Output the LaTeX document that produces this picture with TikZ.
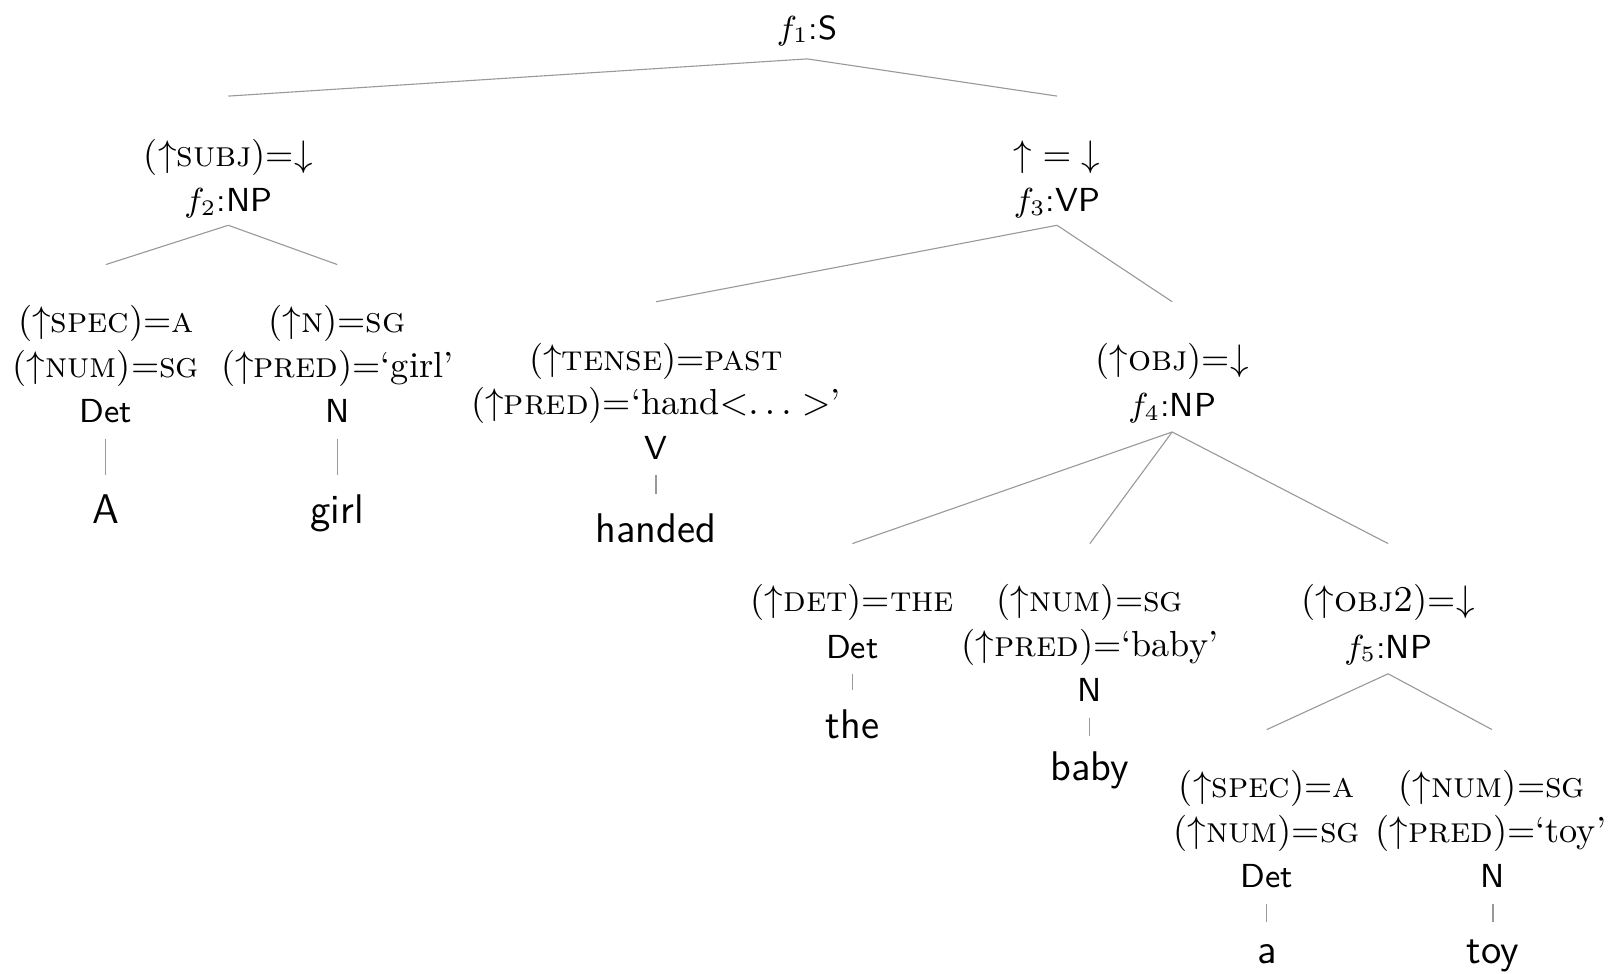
\documentclass[tikz,border=0pt]{standalone}
\usetikzlibrary{calc}
\newcommand\fup{$\uparrow$}
\newcommand\fdn{$\downarrow$}
\newcommand\qopen{\textquoteleft}
\newcommand\qclose{\textquoteright}
\begin{document}
\begin{tikzpicture}[x=0.2779pt,y=-0.2793pt,
  ann/.style={anchor=base,inner sep=0pt,font=\fontsize{9.8}{12}\selectfont},
  cat/.style={anchor=base,inner sep=0pt,font=\fontsize{9}{11}\selectfont\sffamily},
  leaf/.style={anchor=base,inner sep=0pt,font=\fontsize{11.2}{13}\selectfont\sffamily},
  edge/.style={draw=black!40,line width=0.3pt}]
\useasboundingbox (0,0) rectangle (1565.8,941.6);
% root
\node[cat] (s) at (785,38) {$f_1$:S};
% subject NP
\node[ann] (subj) at (222,161) {(\fup\textsc{subj})=\fdn};
\node[cat] (np2) at (222,205) {$f_2$:NP};
\node[ann] (spec1) at (103,322) {(\fup\textsc{spec})=\textsc{a}};
\node[ann] (num1) at (103,365) {(\fup\textsc{num})=\textsc{sg}};
\node[cat] (det1) at (103,409) {Det};
\node[leaf] (lA) at (103,507) {A};
\node[ann] (n1a) at (328,322) {(\fup\textsc{n})=\textsc{sg}};
\node[ann] (pred1) at (328,365) {(\fup\textsc{pred})=\qopen girl\qclose};
\node[cat] (n1) at (328,409) {N};
\node[leaf] (girl) at (328,507) {girl};
% VP
\node[ann] (vpa) at (1028,161) {${\uparrow}={\downarrow}$};
\node[cat] (vp3) at (1028,205) {$f_3$:VP};
\node[ann] (tense) at (638,359) {(\fup\textsc{tense})=\textsc{past}};
\node[ann] (predv) at (638,401) {(\fup\textsc{pred})=\qopen hand$<$$\ldots>$\qclose};
\node[cat] (v) at (638,445) {V};
\node[leaf] (handed) at (638,525) {handed};
\node[ann] (obj) at (1140,359) {(\fup\textsc{obj})=\fdn};
\node[cat] (np4) at (1140,403) {$f_4$:NP};
\node[ann] (det) at (829,592) {(\fup\textsc{det})=\textsc{the}};
\node[cat] (det2) at (829,637) {Det};
\node[leaf] (the) at (829,715) {the};
\node[ann] (num2) at (1060,592) {(\fup\textsc{num})=\textsc{sg}};
\node[ann] (pred2) at (1060,635) {(\fup\textsc{pred})=\qopen baby\qclose};
\node[cat] (n2) at (1060,679) {N};
\node[leaf] (baby) at (1060,755) {baby};
\node[ann] (obj2) at (1350,592) {(\fup\textsc{obj2})=\fdn};
\node[cat] (np5) at (1350,637) {$f_5$:NP};
\node[ann] (spec3) at (1232,772) {(\fup\textsc{spec})=\textsc{a}};
\node[ann] (num3) at (1232,815) {(\fup\textsc{num})=\textsc{sg}};
\node[cat] (det3) at (1232,859) {Det};
\node[leaf] (la) at (1232,932) {a};
\node[ann] (num4) at (1451,772) {(\fup\textsc{num})=\textsc{sg}};
\node[ann] (pred4) at (1450,815) {(\fup\textsc{pred})=\qopen toy\qclose};
\node[cat] (n4) at (1452,859) {N};
\node[leaf] (toy) at (1452,932) {toy};
% edges
\draw[edge] ($(s.base)+(0,19)$) -- ($(subj.base)+(0,-68)$);
\draw[edge] ($(s.base)+(0,19)$) -- ($(vpa.base)+(0,-68)$);
\draw[edge] ($(np2.base)+(0,13)$) -- ($(spec1.base)+(0,-66)$);
\draw[edge] ($(np2.base)+(0,13)$) -- ($(n1a.base)+(0,-66)$);
\draw[edge] ($(det1.base)+(0,16)$) -- ($(lA.base)+(0,-47)$);
\draw[edge] ($(n1.base)+(0,16)$) -- ($(girl.base)+(0,-47)$);
\draw[edge] ($(vp3.base)+(0,13)$) -- ($(tense.base)+(0,-67)$);
\draw[edge] ($(vp3.base)+(0,13)$) -- ($(obj.base)+(0,-67)$);
\draw[edge] ($(v.base)+(0,15)$) -- ($(handed.base)+(0,-47)$);
\draw[edge] ($(np4.base)+(0,15)$) -- ($(det.base)+(0,-66)$);
\draw[edge] ($(np4.base)+(0,15)$) -- ($(num2.base)+(0,-66)$);
\draw[edge] ($(np4.base)+(0,15)$) -- ($(obj2.base)+(0,-66)$);
\draw[edge] ($(det2.base)+(0,15)$) -- ($(the.base)+(0,-47)$);
\draw[edge] ($(n2.base)+(0,16)$) -- ($(baby.base)+(0,-43)$);
\draw[edge] ($(np5.base)+(0,15)$) -- ($(spec3.base)+(0,-66)$);
\draw[edge] ($(np5.base)+(0,15)$) -- ($(num4.base)+(0,-66)$);
\draw[edge] ($(det3.base)+(0,16)$) -- ($(la.base)+(0,-40)$);
\draw[edge] ($(n4.base)+(0,16)$) -- ($(toy.base)+(0,-40)$);
\end{tikzpicture}
\end{document}
